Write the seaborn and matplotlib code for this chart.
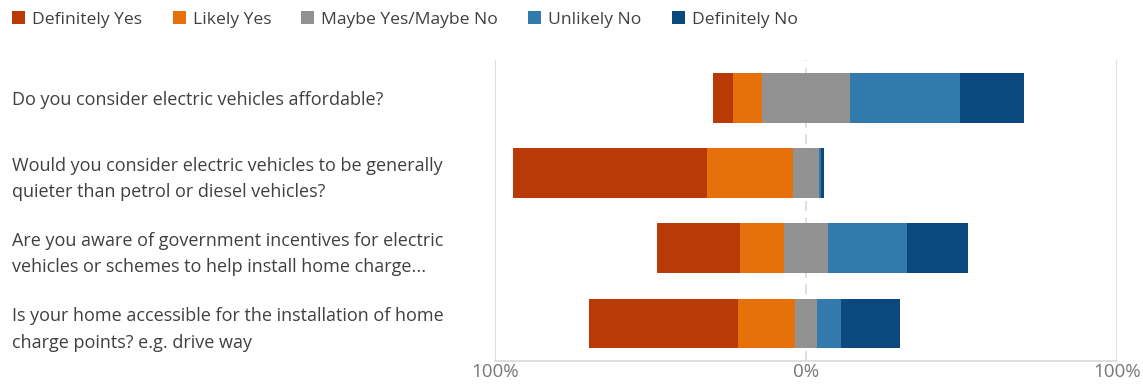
import matplotlib
matplotlib.use("Agg")
import matplotlib.pyplot as plt
from matplotlib.patches import Patch
import seaborn as sns
import pandas as pd

# Survey questions (top to bottom)
questions = [
    "Do you consider electric vehicles affordable?",
    "Would you consider electric vehicles to be generally\nquieter than petrol or diesel vehicles?",
    "Are you aware of government incentives for electric\nvehicles or schemes to help install home charge...",
    "Is your home accessible for the installation of home\ncharge points? e.g. drive way",
]

# Response shares (%) per question
definitely_yes = [6.6, 62.3, 26.7, 47.8]
likely_yes = [9.2, 27.7, 14.1, 18.3]
maybe = [28.2, 8.2, 14.1, 7.0]
unlikely_no = [35.4, 0.7, 25.4, 7.8]
definitely_no = [20.6, 1.1, 19.7, 19.1]

categories = ["Definitely Yes", "Likely Yes", "Maybe Yes/Maybe No", "Unlikely No", "Definitely No"]
colors = ["#B93A07", "#E6700A", "#929292", "#3279AE", "#0B487E"]

df = pd.DataFrame({
    "question": questions,
    "dy": definitely_yes,
    "ly": likely_yes,
    "m": maybe,
    "un": unlikely_no,
    "dn": definitely_no,
})

# Diverging layout: neutral answers are centred on zero.
# Each layer runs from 0 to its outer edge; inner layers are drawn on top.
half = df["m"] / 2
layers = [
    (-(df["dy"] + df["ly"] + half), colors[0]),
    (-(df["ly"] + half), colors[1]),
    (df["dn"] + df["un"] + half, colors[4]),
    (df["un"] + half, colors[3]),
    (-half, colors[2]),
    (half, colors[2]),
]

sns.set_theme(style="white")
plt.rcParams["font.family"] = ["Open Sans", "DejaVu Sans"]

fig = plt.figure(figsize=(11.43, 3.85), dpi=100)
ax = fig.add_axes([0.433, 0.062, 0.544, 0.782])

for ends, col in layers:
    sns.barplot(x=ends.values, y=df["question"], orient="h", color=col,
                width=0.66, linewidth=0, saturation=1, ax=ax)

ax.set_xlim(-100, 100)
ax.set_ylim(3.5, -0.5)

# Reference lines
for xv in (-100, 100):
    ax.axvline(xv, color="#d9d9d9", lw=1.2, zorder=0)
ax.axvline(0, color="#d9d9d9", lw=1.2, ls=(0, (6, 4)), zorder=0)

for s in ("top", "right", "left"):
    ax.spines[s].set_visible(False)
ax.spines["bottom"].set_color("#d9d9d9")
ax.spines["bottom"].set_linewidth(1.2)

ax.set_xticks([-100, 0, 100])
ax.set_xticklabels(["100%", "0%", "100%"], color="#777777", fontsize=13.5)
ax.tick_params(axis="x", length=0, pad=1.5)

ax.set_ylabel("")
ax.set_xlabel("")
ax.set_yticks(range(len(questions)))
ax.set_yticklabels(questions, fontsize=13, color="#404040", ha="left",
                   linespacing=1.58)
ax.tick_params(axis="y", length=0, pad=348)

handles = [Patch(facecolor=c, edgecolor="none") for c in colors]
fig.legend(handles, categories, loc="upper left", bbox_to_anchor=(-0.003, 1.012),
           ncol=5, frameon=False, fontsize=12.6, handlelength=0.75, handleheight=0.75,
           handletextpad=0.4, columnspacing=1.72, labelcolor="#404040")

fig.savefig("out.png", dpi=100)
